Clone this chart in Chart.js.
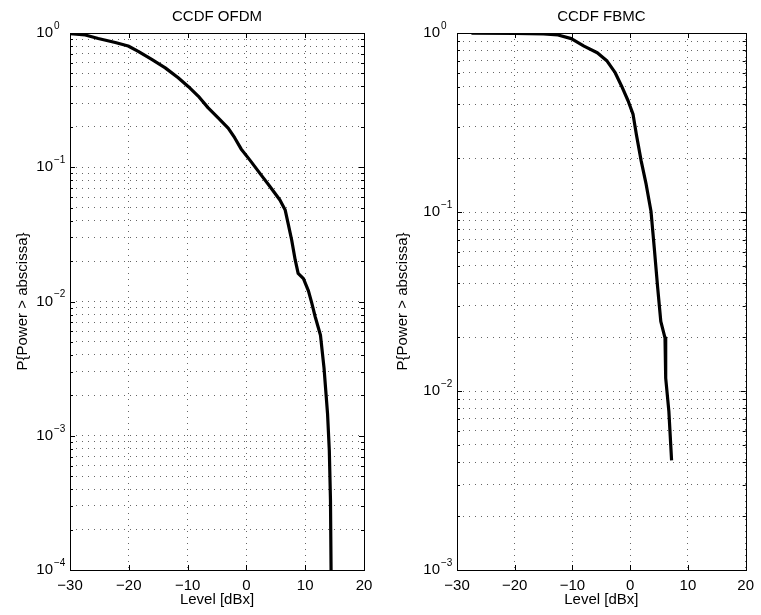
<!DOCTYPE html>
<html>
<head>
<meta charset="utf-8">
<script src="https://cdn.jsdelivr.net/npm/chart.js@4/dist/chart.umd.min.js"></script>
<style>
  body { margin: 0; background: #fff; }
  .panel { position: absolute; top: 0; }
</style>
</head>
<body>
<div class="panel" style="left:0px"><canvas id="ofdmChart" width="380" height="615"></canvas></div>
<div class="panel" style="left:380px"><canvas id="fbmcChart" width="381" height="615"></canvas></div>
<script>
// values
const ofdmLevel = [-30, -27.4, -25.2, -22.3, -20.1, -18.4, -16.1, -13.8, -11.6, -9.9, -8.2, -6.5, -4.8, -3.1, -2.0, -0.9, 0.6, 2.3, 4.0, 5.7, 6.6, 7.1, 7.7, 8.3, 8.8, 9.7, 10.55, 11.1, 11.7, 12.6, 13.2, 13.8, 14.1, 14.3, 14.4];
const ofdmProb  = [0.99, 0.966, 0.91, 0.85, 0.80, 0.73, 0.635, 0.55, 0.464, 0.40, 0.339, 0.277, 0.233, 0.196, 0.166, 0.137, 0.113, 0.090, 0.072, 0.057, 0.048, 0.038, 0.0287, 0.0204, 0.0162, 0.0148, 0.012, 0.0098, 0.0077, 0.0056, 0.0032, 0.00146, 0.00078, 0.00033, 0.0001];

const fbmcLevel = [-27.5, -20, -15, -12.5, -10.2, -8.0, -5.7, -4.0, -2.6, -1.5, -0.35, 0.5, 1.07, 1.9, 2.76, 3.6, 4.17, 4.75, 5.3, 6.03, 6.15, 6.7, 7.17];
const fbmcProb  = [0.997, 0.995, 0.99, 0.975, 0.93, 0.845, 0.776, 0.697, 0.60, 0.506, 0.417, 0.351, 0.271, 0.193, 0.143, 0.101, 0.063, 0.038, 0.0245, 0.0198, 0.0118, 0.0077, 0.0041];

const xTicks = [-30, -20, -10, 0, 10, 20];
const ofdmDecades = [-4, -3, -2, -1, 0];
const fbmcDecades = [-3, -2, -1, 0];

const FONT = "'Liberation Sans', Arial, Helvetica, sans-serif";

function minus(v) {
    return v < 0 ? '\u2212' + Math.abs(v) : String(v);
}

function logTicks(decades) {
    const out = [];
    for (let i = 0; i < decades.length; i++) {
        const e = decades[i];
        if (i === decades.length - 1) { out.push({ value: Math.pow(10, e) }); break; }
        for (let m = 1; m <= 9; m++) out.push({ value: m * Math.pow(10, e) });
    }
    return out;
}

// MATLAB style frame, inward ticks, title and 10^n labels
const matlabAxes = {
    id: 'matlabAxes',
    afterDraw(chart, args, opts) {
        const { ctx, chartArea: a, scales } = chart;
        const x = scales.x, y = scales.y;
        ctx.save();
        ctx.strokeStyle = '#000';
        ctx.lineWidth = 1;
        ctx.beginPath();
        // x ticks, bottom and top
        xTicks.forEach(v => {
            const px = Math.round(x.getPixelForValue(v)) + 0.5;
            ctx.moveTo(px, a.bottom); ctx.lineTo(px, a.bottom - 5);
            ctx.moveTo(px, a.top); ctx.lineTo(px, a.top + 5);
        });
        // y ticks, left and right
        y.ticks.forEach(t => {
            const py = Math.round(y.getPixelForValue(t.value)) + 0.5;
            const major = Math.abs(Math.log10(t.value) - Math.round(Math.log10(t.value))) < 1e-9;
            const len = major ? 5 : 3;
            ctx.moveTo(a.left, py); ctx.lineTo(a.left + len, py);
            ctx.moveTo(a.right, py); ctx.lineTo(a.right - len, py);
        });
        ctx.stroke();
        ctx.strokeRect(Math.round(a.left) + 0.5, Math.round(a.top) + 0.5,
            Math.round(a.right - a.left), Math.round(a.bottom - a.top));

        ctx.fillStyle = '#000';
        // title
        ctx.font = '15px ' + FONT;
        ctx.textAlign = 'center';
        ctx.textBaseline = 'middle';
        ctx.fillText(opts.title, (a.left + a.right) / 2, 17);

        // decade labels
        opts.decades.forEach(e => {
            const py = y.getPixelForValue(Math.pow(10, e));
            ctx.font = '15px ' + FONT;
            ctx.textAlign = 'right';
            ctx.textBaseline = 'middle';
            ctx.fillText('10', a.left - 17, py);
            ctx.font = '10px ' + FONT;
            ctx.textAlign = 'left';
            ctx.fillText(minus(e), a.left - 16, py - 7);
        });
        ctx.restore();
    }
};

function makeChart(id, title, levels, probs, decades, yWidth, rightPad) {
    const ctx = document.getElementById(id).getContext('2d');
    return new Chart(ctx, {
        type: 'line',
        data: {
            datasets: [{
                data: levels.map((v, i) => ({ x: v, y: probs[i] })),
                borderColor: '#000',
                borderWidth: 3.2,
                pointRadius: 0,
                tension: 0,
                borderJoinStyle: 'round',
                fill: false
            }]
        },
        options: {
            responsive: false,
            animation: false,
            layout: { padding: { left: 0, right: rightPad, top: 33, bottom: 0 } },
            plugins: {
                legend: { display: false },
                tooltip: { enabled: false },
                matlabAxes: { title: title, decades: decades }
            },
            scales: {
                x: {
                    type: 'linear',
                    min: -30,
                    max: 20,
                    afterBuildTicks: s => { s.ticks = xTicks.map(v => ({ value: v })); },
                    afterFit: s => { s.height = 45; },
                    ticks: {
                        color: '#000',
                        padding: 7,
                        maxRotation: 0,
                        font: { family: FONT, size: 15 },
                        callback: v => minus(v)
                    },
                    grid: { color: 'rgba(0,0,0,0.6)', lineWidth: 1, drawTicks: false },
                    border: { display: false, dash: [1, 5] },
                    title: {
                        display: true,
                        text: 'Level [dBx]',
                        color: '#000',
                        font: { family: FONT, size: 15 },
                        padding: { top: 0, bottom: 6 }
                    }
                },
                y: {
                    type: 'logarithmic',
                    min: Math.pow(10, decades[0]),
                    max: 1,
                    afterBuildTicks: s => { s.ticks = logTicks(decades); },
                    afterFit: s => { s.width = yWidth; },
                    ticks: { display: false },
                    grid: { color: 'rgba(0,0,0,0.6)', lineWidth: 1, drawTicks: false },
                    border: { display: false, dash: [1, 5] },
                    title: {
                        display: true,
                        text: 'P{Power > abscissa}',
                        color: '#000',
                        font: { family: FONT, size: 15 },
                        padding: { top: 14, bottom: 0 }
                    }
                }
            }
        },
        plugins: [matlabAxes]
    });
}

makeChart('ofdmChart', 'CCDF OFDM', ofdmLevel, ofdmProb, ofdmDecades, 70, 16);
makeChart('fbmcChart', 'CCDF FBMC', fbmcLevel, fbmcProb, fbmcDecades, 77, 9);
</script>
</body>
</html>
